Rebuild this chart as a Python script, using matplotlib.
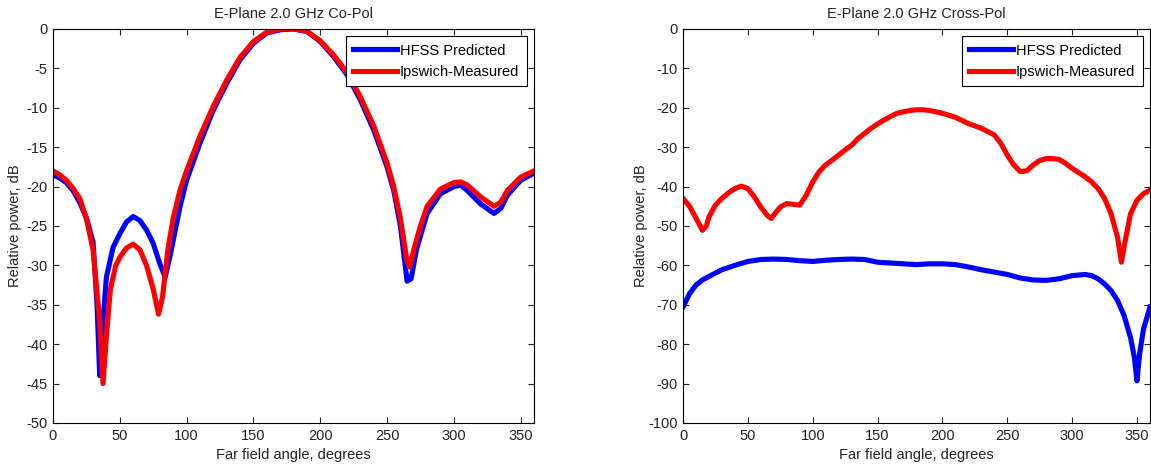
import numpy as np
import matplotlib.pyplot as plt

plt.rcParams['font.family'] = ['Liberation Sans', 'DejaVu Sans']
plt.rcParams['axes.unicode_minus'] = False

# co-pol, HFSS predicted
co_hfss_deg = [0, 5, 10, 15, 20, 25, 30, 33, 35, 37, 40, 45, 50, 55, 60, 65, 70, 75, 80, 84,
               88, 95, 100, 110, 120, 130, 140, 150, 160, 170, 180, 190, 200, 210, 220, 230,
               240, 250, 255, 260, 265, 268, 272, 280, 290, 300, 305, 310, 320, 330, 335,
               340, 350, 360]
co_hfss_db = [-18.5, -18.9, -19.5, -20.5, -22.0, -24.0, -27.0, -35.0, -44.0, -38.0, -31.5,
              -27.7, -26.0, -24.5, -23.8, -24.3, -25.5, -27.2, -29.8, -31.5, -28.5, -22.6,
              -19.2, -14.5, -10.3, -6.9, -3.9, -1.8, -0.5, -0.1, 0.0, -0.3, -1.6, -3.5, -5.8,
              -9.0, -12.8, -17.5, -20.5, -25.0, -32.0, -31.7, -28.0, -23.4, -20.9, -20.0,
              -19.8, -20.5, -22.2, -23.4, -22.8, -21.1, -19.2, -18.3]

# co-pol, Ipswich measured
co_meas_deg = [0, 5, 10, 15, 20, 25, 30, 35, 37.5, 40, 43, 47, 50, 55, 60, 65, 70, 75, 79,
               82, 86, 90, 95, 100, 110, 120, 130, 140, 150, 160, 170, 180, 190, 200, 210,
               220, 230, 240, 250, 255, 260, 265, 267, 270, 275, 280, 290, 300, 305, 310,
               320, 330, 335, 340, 350, 360]
co_meas_db = [-18.0, -18.5, -19.2, -20.2, -21.5, -24.0, -28.0, -37.0, -45.0, -39.0, -33.0,
              -30.0, -29.0, -27.8, -27.3, -28.0, -30.0, -33.0, -36.2, -34.0, -28.0, -24.0,
              -20.5, -18.0, -13.6, -9.8, -6.5, -3.6, -1.6, -0.4, 0.0, 0.0, -0.3, -1.5, -3.3,
              -5.5, -8.6, -12.3, -17.0, -20.0, -24.0, -29.5, -30.2, -28.0, -25.0, -22.5,
              -20.3, -19.5, -19.4, -19.8, -21.3, -22.5, -22.0, -20.5, -18.8, -18.0]

# cross-pol, HFSS predicted
x_hfss_deg = [0, 5, 10, 15, 20, 30, 40, 50, 60, 70, 80, 90, 100, 110, 120, 130, 140, 150,
              160, 170, 180, 190, 200, 210, 220, 230, 240, 250, 260, 270, 280, 290, 300,
              310, 315, 320, 325, 330, 335, 340, 345, 348, 350, 352, 355, 360]
x_hfss_db = [-70.6, -67.2, -65.0, -63.7, -62.8, -61.1, -60.0, -59.0, -58.5, -58.4, -58.5,
             -58.8, -59.0, -58.7, -58.5, -58.4, -58.5, -59.2, -59.4, -59.6, -59.8, -59.6,
             -59.6, -59.8, -60.4, -61.1, -61.7, -62.3, -63.2, -63.7, -63.8, -63.4, -62.6,
             -62.3, -62.6, -63.4, -64.7, -66.4, -68.9, -72.7, -78.3, -83.4, -89.3, -82.5,
             -76.2, -70.6]

# cross-pol, Ipswich measured
x_meas_deg = [0, 5, 10, 15, 18, 20, 25, 30, 35, 40, 45, 50, 55, 60, 65, 68, 72, 75, 80, 85,
              90, 95, 100, 105, 110, 115, 120, 125, 130, 135, 140, 145, 150, 155, 160, 165,
              170, 175, 180, 185, 190, 195, 200, 210, 220, 230, 240, 245, 250, 255, 260,
              265, 270, 275, 280, 285, 290, 295, 300, 310, 315, 320, 325, 330, 335, 338,
              341, 345, 350, 355, 360]
x_meas_db = [-43.0, -45.0, -48.0, -51.1, -50.0, -47.7, -44.7, -43.0, -41.6, -40.5, -39.9,
             -40.5, -42.6, -45.2, -47.3, -48.1, -46.4, -45.2, -44.3, -44.5, -44.7, -42.2,
             -38.8, -36.2, -34.5, -33.3, -32.0, -30.7, -29.5, -27.8, -26.5, -25.2, -24.1,
             -23.1, -22.2, -21.4, -21.0, -20.7, -20.5, -20.5, -20.7, -21.0, -21.4, -22.4,
             -24.0, -25.2, -26.9, -29.0, -32.0, -34.5, -36.2, -36.0, -34.5, -33.4, -32.9,
             -32.9, -33.1, -34.1, -35.4, -37.5, -38.8, -40.5, -43.0, -46.9, -52.8, -59.2,
             -53.6, -46.9, -43.5, -41.8, -40.9]

fig = plt.figure(figsize=(11.51, 4.66), dpi=100)
ax1 = fig.add_axes([0.046, 0.0923, 0.418, 0.8455])
ax2 = fig.add_axes([0.5934, 0.0923, 0.4057, 0.8455])

fs = 10.5
panels = [
    (ax1, co_hfss_deg, co_hfss_db, co_meas_deg, co_meas_db, 'E-Plane 2.0 GHz Co-Pol', -50, 5, -0.065),
    (ax2, x_hfss_deg, x_hfss_db, x_meas_deg, x_meas_db, 'E-Plane 2.0 GHz Cross-Pol', -100, 10, -0.075),
]
for ax, hx, hy, mx, my, title, ymin, ystep, ylab_x in panels:
    ax.plot(hx, hy, color='#0000ff', lw=3.7, label='HFSS Predicted')
    ax.plot(mx, my, color='#ff0000', lw=3.7, label='Ipswich-Measured')
    ax.set_xlim(0, 360)
    ax.set_ylim(ymin, 0)
    ax.set_xticks(np.arange(0, 351, 50))
    ax.set_yticks(np.arange(ymin, 1, ystep))
    ax.tick_params(direction='in', top=True, right=True, labelsize=fs, length=4,
                   width=0.8, pad=4, colors='#222222')
    for s in ax.spines.values():
        s.set_linewidth(0.8)
    ax.set_title(title, fontsize=fs, pad=8, color='#222222')
    ax.set_xlabel('Far field angle, degrees', fontsize=fs, labelpad=4, color='#222222')
    ax.set_ylabel('Relative power, dB', fontsize=fs, color='#222222')
    ax.yaxis.set_label_coords(ylab_x, 0.5)
    leg = ax.legend(loc='upper right', fontsize=fs, fancybox=False, framealpha=1,
                    edgecolor='black', handlelength=3.0, borderaxespad=0.5,
                    borderpad=0.5, labelspacing=0.5, handletextpad=0.2)
    leg.get_frame().set_linewidth(0.8)

fig.savefig('out.png', dpi=100)
